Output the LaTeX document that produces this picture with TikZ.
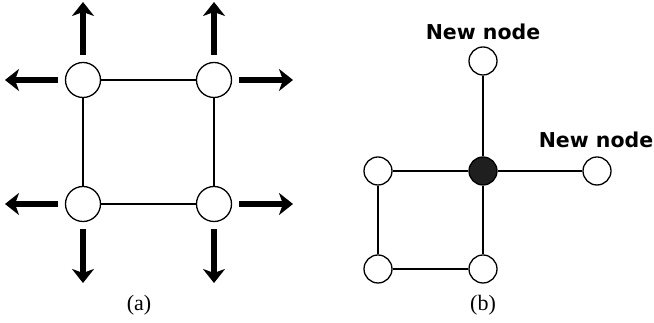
\documentclass[tikz,border=0pt]{standalone}
\usepackage{fontspec}
\setmainfont{Liberation Serif}
\newfontfamily\labelfont{DejaVu Sans}
\usetikzlibrary{arrows.meta}

\begin{document}
\begin{tikzpicture}[x=1pt,y=1pt,
  vertex/.style={circle,draw,line width=1.3pt,fill=white,minimum size=35pt,inner sep=0pt},
  smallvertex/.style={vertex,minimum size=28pt},
  link/.style={line width=1.1pt},
  growarrow/.style={line width=6.5pt,shorten <=7pt,-{Stealth[length=14pt,width=22pt,inset=4pt]}},
  newlabel/.style={font=\labelfont\bfseries\fontsize{20.5}{24}\selectfont},
  caption/.style={font=\fontsize{22}{24}\selectfont}]
\useasboundingbox (0,0) rectangle (654,323);

% (a)
\node[vertex] (tl) at (83,243) {};
\node[vertex] (tr) at (214,243) {};
\node[vertex] (bl) at (83,119) {};
\node[vertex] (br) at (214,119) {};
\path[link] (tl) edge (tr) (tr) edge (br) (br) edge (bl) (bl) edge (tl);

\coordinate (tl-up) at (83,321);
\coordinate (tl-left) at (5,243);
\coordinate (tr-up) at (214,321);
\coordinate (tr-right) at (293,243);
\coordinate (bl-down) at (83,40);
\coordinate (bl-left) at (5,119);
\coordinate (br-down) at (214,40);
\coordinate (br-right) at (293,119);
\foreach \n/\d in {tl/up,tl/left,tr/up,tr/right,bl/down,bl/left,br/down,br/right}
  \draw[growarrow] (\n) -- (\n-\d);

\node[caption] (capa) at (139,18) {(a)};

% (b)
\node[smallvertex] (top) at (483,262) {};
\node[smallvertex,fill=black!88] (mid) at (483,152) {};
\node[smallvertex] (right) at (597,152) {};
\node[smallvertex] (left) at (378,152) {};
\node[smallvertex] (lowleft) at (378,54) {};
\node[smallvertex] (low) at (483,54) {};
\path[link] (mid) edge (top) (mid) edge (right) (mid) edge (left)
  (mid) edge (low) (low) edge (lowleft) (lowleft) edge (left);

\node[newlabel] (toplabel) at (483,291) {New node};
\node[newlabel] (rightlabel) at (596,183) {New node};

\node[caption] (capb) at (483,18) {(b)};
\end{tikzpicture}
\end{document}
